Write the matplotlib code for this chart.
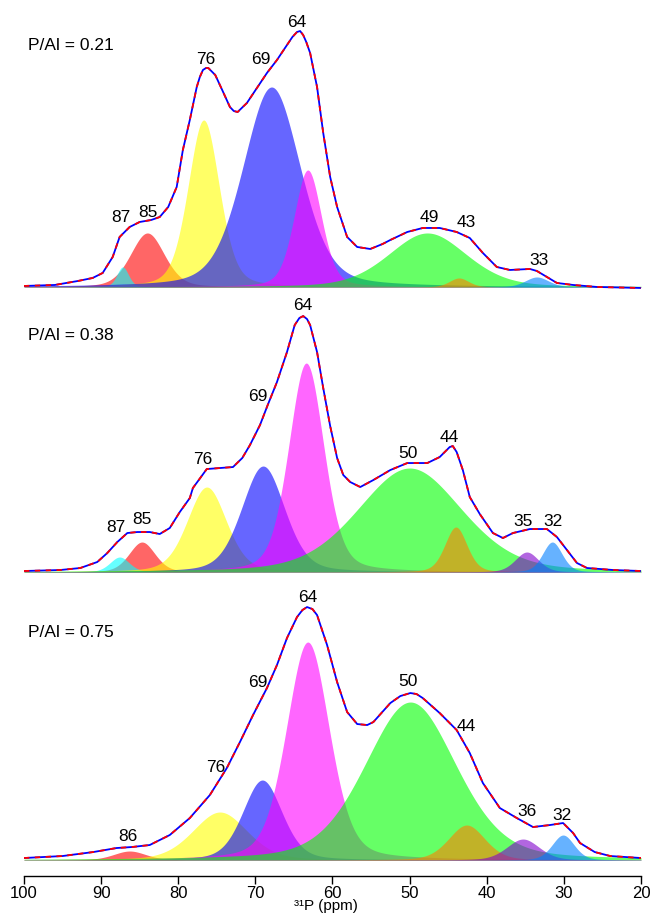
import numpy as np
import matplotlib.pyplot as plt

plt.rcParams['font.family'] = ['Liberation Sans', 'DejaVu Sans']

env_ppm_021 = [100, 96, 93, 91.1, 89.8, 88.5, 87.6, 86.3, 85.0, 83.5, 82.4, 81.3, 80.2, 79.4,
               78.5, 77.6, 77.2, 76.8, 76.4, 76.1, 75.2, 74.3, 73.3, 72.8, 72.3, 71.1, 69.8,
               68.5, 67.2, 65.9, 65.2, 64.6, 64.2, 63.8, 63.4, 62.9, 62.0, 61.2, 60.3, 59.4,
               58.1, 56.8, 55.1, 53.5, 52.5, 50.3, 48.3, 46.1, 43.9, 42.2, 40.5, 38.7, 37.0,
               34.4, 33.5, 32.2, 30.9, 28.8, 25.7, 20]
env_int_021 = [1, 2, 6, 9, 14, 30, 50, 60, 65, 67, 70, 80, 100, 137,
               167, 200, 210, 217, 219, 219, 212, 197, 180, 176, 175, 184, 199,
               214, 227, 242, 250, 255, 256, 252, 245, 234, 200, 154, 110, 80,
               50, 40, 38, 43, 47, 55, 59, 59, 55, 49, 34, 20, 17,
               18, 16, 10, 4, 2, 0, -1]

env_ppm_038 = [100, 95.3, 92.7, 90.5, 89.2, 87.9, 86.6, 85.3, 83.7, 82.4, 81.1, 79.8, 78.5,
               78.1, 76.3, 74.6, 72.9, 71.7, 70.7, 69.4, 68.4, 67.2, 65.9, 64.9, 64.3, 63.8,
               63.3, 62.9, 62.0, 61.2, 60.3, 59.4, 58.6, 57.7, 56.4, 54.7, 52.5, 50.3, 47.7,
               46.1, 44.8, 44.4, 43.9, 43.1, 42.2, 40.9, 39.2, 37.9, 36.6, 34.4, 32.2, 30.9,
               29.6, 28.3, 27.0, 23.6, 20]
env_int_038 = [1, 2, 4, 10, 19, 30, 39, 40, 40, 38, 44, 60, 74,
               84, 103, 104, 105, 114, 127, 147, 167, 190, 220, 247, 254, 256,
               253, 247, 220, 184, 146, 114, 97, 90, 85, 92, 102, 109, 109,
               115, 125, 126, 120, 102, 75, 58, 39, 34, 39, 43, 43, 35,
               22, 9, 4, 2, 1]

env_ppm_075 = [100, 95, 91, 88, 86, 83.7, 81.1, 78.5, 75.9, 73.7, 72.0, 70.3, 68.5, 67.2,
               65.9, 64.6, 63.9, 63.3, 62.6, 62.0, 60.7, 59.4, 58.1, 56.8, 55.5, 54.7, 52.5,
               51.2, 49.9, 49.1, 48.3, 46.1, 43.9, 42.2, 40.5, 38.3, 36.1, 34.0, 31.8, 30.1,
               28.8, 27.9, 26, 24, 20]
env_int_075 = [2, 4, 8, 12, 13, 15, 25, 42, 65, 92, 118, 145, 172, 195,
               222, 243, 250, 253, 251, 245, 215, 178, 148, 136, 135, 138, 157,
               164, 167, 166, 162, 147, 130, 107, 77, 52, 42, 33, 35, 37,
               27, 17, 8, 4, 2]

# ---- fitted components: position (ppm), height, half width (ppm)
pos_021 = [84.0, 87.2, 76.7, 67.9, 63.2, 47.7, 43.6, 33.5]
hgt_021 = [54, 20, 167, 200, 117, 54, 9, 10]
hw_021 = [2.6, 0.9, 2.4, 4.4, 2.1, 6.0, 1.5, 1.8]
kind_021 = ['red', 'cyan', 'yellow', 'blue', 'magenta', 'green', 'orange', 'lightblue']

pos_038 = [84.7, 87.6, 76.3, 69.0, 63.4, 50.0, 44.0, 34.8, 31.5]
hgt_038 = [30, 15, 85, 106, 209, 104, 45, 20, 30]
hw_038 = [2.0, 1.5, 3.0, 3.3, 2.7, 8.0, 1.7, 1.8, 1.5]
kind_038 = ['red', 'cyan', 'yellow', 'blue', 'magenta', 'green', 'orange', 'purple', 'lightblue']

pos_075 = [86.3, 74.6, 69.1, 63.2, 49.9, 42.6, 35.3, 30.1]
hgt_075 = [9, 48, 80, 218, 158, 35, 21, 25]
hw_075 = [2.5, 4.2, 3.0, 3.3, 7.0, 2.8, 2.5, 1.7]
kind_075 = ['red', 'yellow', 'blue', 'magenta', 'green', 'orange', 'purple', 'lightblue']

labels_021 = ['87', '85', '76', '69', '64', '49', '43', '33']
labels_038 = ['87', '85', '76', '69', '64', '50', '44', '35', '32']
labels_075 = ['86', '76', '69', '64', '50', '44', '36', '32']
ratios = ['P/Al = 0.21', 'P/Al = 0.38', 'P/Al = 0.75']

colors = {'red': (1, 0, 0), 'cyan': (0, 1, 1), 'yellow': (1, 1, 0), 'blue': (0, 0, 1),
          'magenta': (1, 0, 1), 'green': (0, 1, 0), 'orange': (1, 0.5, 0),
          'purple': (0.5, 0, 0.8), 'lightblue': (0, 0.5, 1)}

# label anchor points (ppm, height) for each panel
lab_xy = [
    [(87.4, 69), (83.9, 74), (76.4, 228), (69.3, 228), (64.6, 265), (47.4, 69), (42.7, 64), (33.2, 26)],
    [(88.1, 45), (84.7, 53), (76.8, 113), (69.7, 176), (63.8, 267), (50.2, 119), (44.9, 135), (35.3, 51), (31.4, 51)],
    [(86.5, 24), (75.1, 93), (69.7, 178), (63.2, 263), (50.2, 179), (42.7, 134), (34.8, 49), (30.2, 45)],
]
ratio_y = [242, 237, 228]


def pvoigt(x, c, h, w, eta=0.3):
    u = (x - c) / w
    return h * (eta / (1 + u**2) + (1 - eta) * np.exp(-np.log(2) * u**2))


x = np.linspace(100, 20, 1601)

fig = plt.figure(figsize=(6.52, 9.13), dpi=100)
ax_top = fig.add_axes([0.0368, 0.6813, 0.9463, 0.3154])
ax_mid = fig.add_axes([0.0368, 0.3691, 0.9463, 0.3110])
ax_bot = fig.add_axes([0.0368, 0.0405, 0.9463, 0.3187])
ax_top.set_ylim(-4, 284)
ax_mid.set_ylim(-4, 280)
ax_bot.set_ylim(-16, 275)

panels = [
    (ax_top, env_ppm_021, env_int_021, pos_021, hgt_021, hw_021, kind_021, labels_021),
    (ax_mid, env_ppm_038, env_int_038, pos_038, hgt_038, hw_038, kind_038, labels_038),
    (ax_bot, env_ppm_075, env_int_075, pos_075, hgt_075, hw_075, kind_075, labels_075),
]

for i, (ax, ep, ei, pos, hgt, hw, kind, labs) in enumerate(panels):
    for c, h, w, k in zip(pos, hgt, hw, kind):
        ax.fill_between(x, 0, pvoigt(x, c, h, w), color=colors[k], alpha=0.6, lw=0)
    ax.plot(ep, ei, color='blue', lw=1.3)
    ax.plot(ep, ei, color='red', lw=1.3, ls=(0, (3, 3)))
    for t, (lx, ly) in zip(labs, lab_xy[i]):
        ax.text(lx, ly, t, ha='center', va='center', fontsize=12.5)
    ax.text(99.5, ratio_y[i], ratios[i], ha='left', va='center', fontsize=12.5)
    ax.set_xlim(100, 20)
    for s in ['top', 'right', 'left']:
        ax.spines[s].set_visible(False)
    ax.set_yticks([])
    if ax is not ax_bot:
        ax.spines['bottom'].set_visible(False)
        ax.set_xticks([])

ax_bot.set_xticks(np.arange(100, 19, -10))
ax_bot.tick_params(axis='x', length=6, width=1, labelsize=12, pad=1)
ax_bot.spines['bottom'].set_linewidth(1)
fig.text(0.5, 0.0, '\u00b3\u00b9P (ppm)', ha='center', va='bottom', fontsize=11)

fig.savefig('out.png', dpi=100)
